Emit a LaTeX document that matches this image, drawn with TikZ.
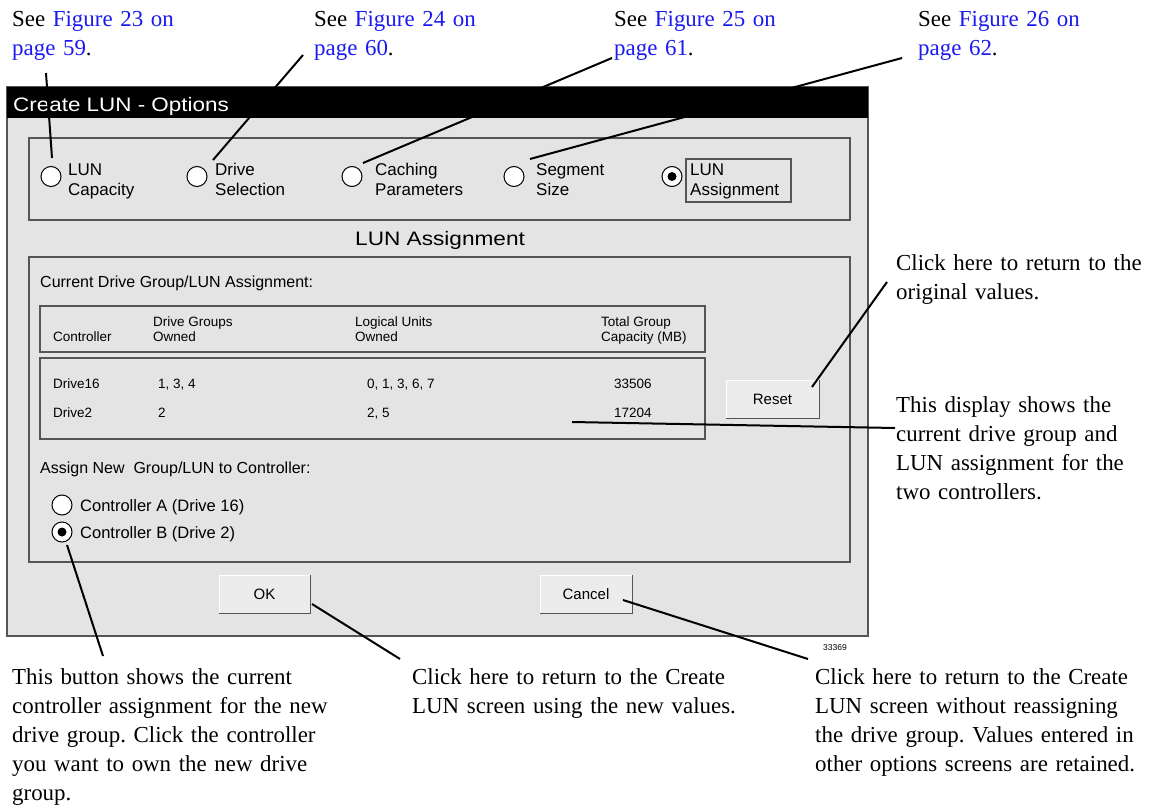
\documentclass[tikz,border=0pt]{standalone}
\usepackage{graphicx}
\usepackage{fontspec}
\setmainfont{Liberation Serif}
\newfontfamily\guifont{Liberation Sans}
\definecolor{linkblue}{RGB}{26,26,240}
\definecolor{winfill}{RGB}{228,228,228}
\definecolor{frame}{RGB}{85,85,85}
\definecolor{btnfill}{RGB}{236,236,236}
\frenchspacing
\tikzset{
  note/.style={anchor=base west, inner sep=0pt, align=left, text width=340pt,
    font=\fontsize{22.9}{29}\selectfont},
  gui/.style={anchor=base west, inner sep=0pt, font=\guifont\fontsize{16}{19}\selectfont},
  optlabel/.style={anchor=base west, inner sep=0pt, align=left, text width=120pt,
    font=\guifont\fontsize{17}{20}\selectfont},
  cell/.style={anchor=base west, inner sep=0pt, font=\guifont\fontsize{13.5}{15}\selectfont},
  radio/.style={circle, draw=black, fill=white, line width=1pt, minimum size=20pt, inner sep=0pt},
  groupbox/.style={draw=frame, line width=1.3pt},
  btn/.style={draw=frame, fill=btnfill, line width=1pt, inner sep=0pt,
    minimum width=92pt, minimum height=38pt, font=\guifont\fontsize{15}{17}\selectfont},
  leader/.style={draw=black, line width=2pt},
}
\newcommand{\seefig}[2]{See \textcolor{linkblue}{Figure #1 on}\\\textcolor{linkblue}{page #2}.}
\begin{document}
\begin{tikzpicture}[x=1pt,y=-1pt]
\useasboundingbox (0,0) rectangle (1152,806);
\fill[white] (0,0) rectangle (1152,806);

% dialog window
\draw[fill=winfill, draw=frame, line width=1.2pt] (7,87) rectangle (868,636);
\fill[black] (7,87) rectangle (868,118);
\node[anchor=base west, inner sep=0pt, text=white, font=\guifont\fontsize{19.5}{22}\selectfont]
  (title) at (13,111.5) {\scalebox{1.15}[1]{Create LUN - Options}};

% option selector group
\draw[groupbox] (29,138) rectangle (850,220);
\node[radio] (r1) at (51,176.5) {};
\node[radio] (r2) at (197,176.5) {};
\node[radio] (r3) at (352,176.5) {};
\node[radio] (r4) at (514,176.5) {};
\node[radio] (r5) at (672,176.5) {};
\fill (r5) circle (4.5pt);
\node[optlabel] (l1) at (68,175) {LUN\\Capacity};
\node[optlabel] (l2) at (215,175) {Drive\\Selection};
\node[optlabel] (l3) at (375,175) {Caching\\Parameters};
\node[optlabel] (l4) at (536,175) {Segment\\Size};
\draw[draw=frame, line width=1.2pt] (686,159) rectangle (791,202);
\node[optlabel] (l5) at (690,175) {LUN\\Assignment};

\node[anchor=base west, inner sep=0pt, font=\guifont\fontsize{19.5}{22}\selectfont]
  (heading) at (355,245) {\scalebox{1.16}[1]{LUN Assignment}};

% assignment group
\draw[groupbox] (29,257) rectangle (850,562);
\node[gui] (cur) at (40,287) {Current Drive Group/LUN Assignment:};

% table header
\draw[groupbox] (40,306) rectangle (705,352);
\node[cell] (hc) at (53,341) {Controller};
\node[cell] (hd1) at (153,326) {Drive Groups};
\node[cell] (hd2) at (153,341) {Owned};
\node[cell] (hl1) at (355,326) {Logical Units};
\node[cell] (hl2) at (355,341) {Owned};
\node[cell] (ht1) at (601,326) {Total Group};
\node[cell] (ht2) at (601,341) {Capacity (MB)};

% table rows
\draw[groupbox] (40,358) rectangle (705,439);
\node[cell] (c11) at (53,388) {Drive16};
\node[cell] (c12) at (158,388) {1, 3, 4};
\node[cell] (c13) at (367,388) {0, 1, 3, 6, 7};
\node[cell] (c14) at (614,388) {33506};
\node[cell] (c21) at (53,417) {Drive2};
\node[cell] (c22) at (158,417) {2};
\node[cell] (c23) at (367,417) {2, 5};
\node[cell] (c24) at (614,417) {17204};
\coordinate (tbl) at (572,422);

% buttons
\node[btn, minimum width=93pt] (reset) at (772.5,399) {Reset};
\node[btn, minimum width=91pt] (ok) at (264.5,594) {OK};
\node[btn, minimum width=92pt] (cancel) at (586,594) {Cancel};
\foreach \b in {reset,ok,cancel}{
  \draw[white, line width=1.2pt] ([xshift=1pt,yshift=1pt]\b.south west) |- ([xshift=-1pt,yshift=-1pt]\b.north east);
}

% controller choice
\node[gui] (assign) at (40,473) {Assign New\ \ Group/LUN to Controller:};
\node[radio] (ca) at (62,505) {};
\node[radio] (cb) at (62,532) {};
\fill (cb) circle (4.5pt);
\node[gui, font=\guifont\fontsize{16.5}{19}\selectfont] (cat) at (80,511) {Controller A (Drive 16)};
\node[gui, font=\guifont\fontsize{16.5}{19}\selectfont] (cbt) at (80,538) {Controller B (Drive 2)};

\node[anchor=center, inner sep=0pt, font=\guifont\fontsize{8.5}{10}\selectfont] (fignum) at (835,648) {33369};

% callouts
\node[note] (n1) at (12,26) {\seefig{23}{59}};
\node[note] (n2) at (314,26) {\seefig{24}{60}};
\node[note] (n3) at (614,26) {\seefig{25}{61}};
\node[note] (n4) at (918,26) {\seefig{26}{62}};
\node[note] (nreset) at (896,270) {Click here to return to the\\original values.};
\node[note] (ndisp) at (896,412) {This display shows the\\current drive group and\\LUN assignment for the\\two controllers.};
\node[note] (nradio) at (12,684) {This button shows the current\\controller assignment for the new\\drive group. Click the controller\\you want to own the new drive\\group.};
\node[note] (nok) at (412,684) {Click here to return to the Create\\LUN screen using the new values.};
\node[note] (ncancel) at (815,684) {Click here to return to the Create\\LUN screen without reassigning\\the drive group. Values entered in\\other options screens are retained.};

% leader lines
\coordinate (a1) at (46,73);   \coordinate (b1) at (52,158);
\coordinate (a2) at (303,55);  \coordinate (b2) at (213,160);
\coordinate (a3) at (612,58);  \coordinate (b3) at (363,163);
\coordinate (a4) at (902,58);  \coordinate (b4) at (530,159);
\coordinate (a5) at (887,282); \coordinate (b5) at (812,387);
\coordinate (a6) at (895,428);
\coordinate (a7) at (103,656); \coordinate (b7) at (67,545);
\coordinate (a8) at (400,659); \coordinate (b8) at (312,604);
\coordinate (a9) at (808,659); \coordinate (b9) at (623,600);
\draw[leader] (a1) -- (b1);
\draw[leader] (a2) -- (b2);
\draw[leader] (a3) -- (b3);
\draw[leader] (a4) -- (b4);
\draw[leader] (a5) -- (b5);
\draw[leader] (a6) -- (tbl);
\draw[leader] (a7) -- (b7);
\draw[leader] (a8) -- (b8);
\draw[leader] (a9) -- (b9);
\end{tikzpicture}
\end{document}
